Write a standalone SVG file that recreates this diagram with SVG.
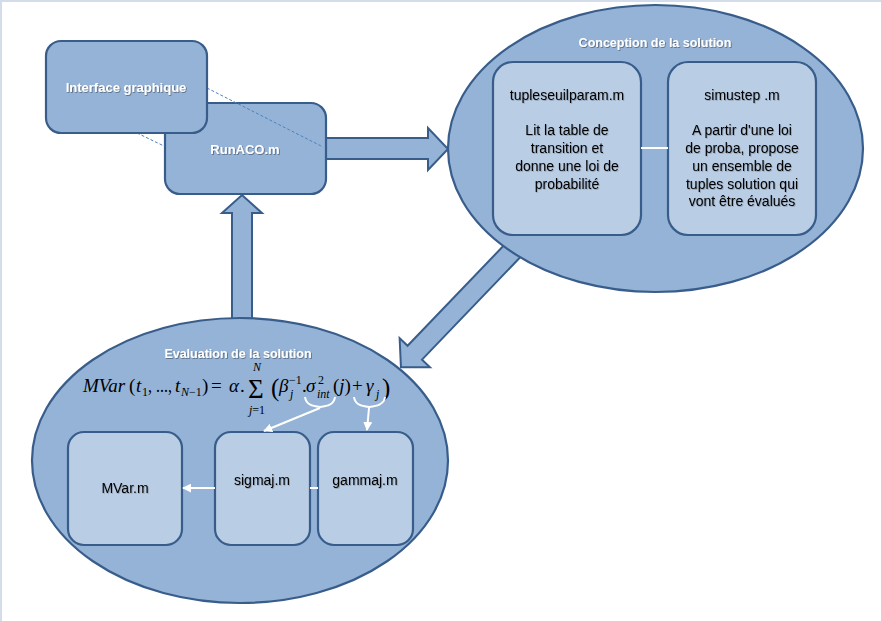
<svg xmlns="http://www.w3.org/2000/svg" width="881" height="621" viewBox="0 0 881 621">
<defs>
<style>
.shape{fill:#95b3d7;stroke:#385d8a;stroke-width:2.2}
.inner{fill:#b9cde5;stroke:#385d8a;stroke-width:2.2}
.arrow{fill:#95b3d7;stroke:#385d8a;stroke-width:2;stroke-linejoin:miter}
.title{font-family:"Liberation Sans",Arial,sans-serif;font-size:12.5px;font-weight:bold;fill:#ffffff;text-anchor:middle;filter:url(#sh)}
.btitle{font-family:"Liberation Sans",Arial,sans-serif;font-size:13px;font-weight:bold;fill:#ffffff;text-anchor:middle;filter:url(#sh)}
.lbl{font-family:"Liberation Sans",Arial,sans-serif;font-size:14px;fill:#000000;text-anchor:middle;filter:url(#sh2)}
.math{font-family:"Liberation Serif","Times New Roman",serif;font-size:19px;fill:#000000}
.it{font-style:italic}
.sm{font-size:12px}
.dash{stroke:#4f81bd;stroke-width:1;stroke-dasharray:3 2;fill:none}
.wl{stroke:#ffffff;stroke-width:2;fill:none}
</style>
<filter id="sh" x="-10%" y="-30%" width="120%" height="160%">
<feDropShadow dx="0.8" dy="0.8" stdDeviation="0.6" flood-color="#000000" flood-opacity="0.45"/>
</filter>
<filter id="sh2" x="-10%" y="-30%" width="120%" height="160%">
<feDropShadow dx="0.8" dy="0.8" stdDeviation="0.6" flood-color="#000000" flood-opacity="0.25"/>
</filter>
<marker id="wh2" viewBox="0 0 10 10" refX="9" refY="5" markerWidth="9" markerHeight="9" orient="auto" markerUnits="userSpaceOnUse">
<path d="M0,0 L10,5 L0,10 z" fill="#ffffff"/>
</marker>
</defs>
<rect x="0" y="0" width="881" height="621" fill="#ffffff"/>
<path d="M1,621 L1,1 L881,1" fill="none" stroke="#d3dcea" stroke-width="2"/>

<g id="connectors-back">
<polygon class="arrow" points="320,138 428,138 428,128 448,149 428,170 428,159 320,159"/>
<polygon class="arrow" points="232,320 232,213 222,213 242,195 262,213 252,213 252,320"/>
<polygon class="arrow" transform="translate(520,243) rotate(133.8)" points="0,-10 152,-10 152,-21 172,0 152,21 152,10 0,10"/>
</g>

<g id="runaco">
<rect class="shape" x="165" y="103" width="161" height="91" rx="15"/>
<text class="btitle" x="245" y="154">RunACO.m</text>
</g>

<g id="connectors-dashed">
<line class="dash" x1="207" y1="88" x2="323" y2="147"/>
<line class="dash" x1="137" y1="133" x2="164" y2="146"/>
</g>

<g id="interface">
<rect class="shape" x="46" y="41" width="161" height="92" rx="15"/>
<text class="btitle" x="126" y="92">Interface graphique</text>
</g>

<g id="conception">
<ellipse class="shape" cx="655.5" cy="148.5" rx="207.5" ry="143.5"/>
<text class="title" x="655" y="47">Conception de la solution</text>
</g>

<g id="tupleseuilparam">
<rect class="inner" x="493" y="62" width="148" height="173" rx="20"/>
<text class="lbl" x="567" y="100">tupleseuilparam.m</text>
<text class="lbl" x="567" y="135">Lit la table de</text>
<text class="lbl" x="567" y="153">transition et</text>
<text class="lbl" x="567" y="171">donne une loi de</text>
<text class="lbl" x="567" y="189">probabilité</text>
</g>

<g id="simustep">
<rect class="inner" x="668" y="62" width="148" height="173" rx="20"/>
<text class="lbl" x="742" y="100">simustep .m</text>
<text class="lbl" x="742" y="135">A partir d'une loi</text>
<text class="lbl" x="742" y="153">de proba, propose</text>
<text class="lbl" x="742" y="171">un ensemble de</text>
<text class="lbl" x="742" y="189">tuples solution qui</text>
<text class="lbl" x="742" y="206">vont être évalués</text>
</g>

<g id="evaluation">
<ellipse class="shape" cx="240" cy="460.5" rx="208" ry="142.5"/>
<text class="title" x="238" y="358">Evaluation de la solution</text>
<g id="formula" class="math">
<text x="83" y="392" class="it">MVar</text>
<text x="129" y="392">(</text>
<text x="136" y="392" class="it">t</text>
<text x="142" y="396" class="sm">1</text>
<text x="148" y="392" textLength="24" lengthAdjust="spacingAndGlyphs">, ...,</text>
<text x="175" y="392" class="it">t</text>
<text x="181" y="396" class="sm it">N</text>
<text x="189" y="396" class="sm">−1</text>
<text x="202" y="392">)</text>
<text x="211" y="392">=</text>
<text x="229" y="392" class="it">α</text>
<text x="240" y="392">.</text>
<text x="248" y="398" style="font-size:27px">Σ</text>
<text x="253" y="371" class="sm it">N</text>
<text x="249" y="414" class="sm"><tspan class="it">j</tspan>=1</text>
<text x="271" y="396" style="font-size:25px">(</text>
<text x="279" y="392" class="it">β</text>
<text x="289" y="384" class="sm">−1</text>
<text x="290" y="398" class="sm it">j</text>
<text x="302" y="392">.</text>
<text x="306" y="392" class="it">σ</text>
<text x="318" y="384" class="sm">2</text>
<text x="317" y="398" class="sm it">int</text>
<text x="333" y="392">(<tspan class="it">j</tspan>)</text>
<text x="352" y="392">+</text>
<text x="366" y="392" class="it">γ</text>
<text x="376" y="398" class="sm it">j</text>
<text x="382" y="396" style="font-size:25px">)</text>
</g>
</g>

<g id="mvar">
<rect class="inner" x="68" y="432" width="114" height="113" rx="16"/>
<text class="lbl" x="125" y="493">MVar.m</text>
</g>

<g id="sigmaj">
<rect class="inner" x="215" y="432" width="95" height="113" rx="16"/>
<text class="lbl" x="262" y="485">sigmaj.m</text>
</g>

<g id="gammaj">
<rect class="inner" x="318" y="432" width="95" height="113" rx="16"/>
<text class="lbl" x="365" y="485">gammaj.m</text>
</g>

<g id="connectors-front">
<line class="wl" x1="641" y1="148" x2="668" y2="148"/>
<line class="wl" x1="215" y1="488" x2="183" y2="488" marker-end="url(#wh2)"/>
<line class="wl" x1="310" y1="488" x2="318" y2="488"/>
<path class="wl" d="M305,397 C306,405 313,406 320,407 C327,406 334,405 335,397"/>
<line class="wl" x1="320" y1="408" x2="264" y2="431" marker-end="url(#wh2)"/>
<path class="wl" d="M354,397 C355,405 362,406 369,407 C376,406 384,405 385,397"/>
<line class="wl" x1="369" y1="408" x2="367" y2="430" marker-end="url(#wh2)"/>
</g>
</svg>
